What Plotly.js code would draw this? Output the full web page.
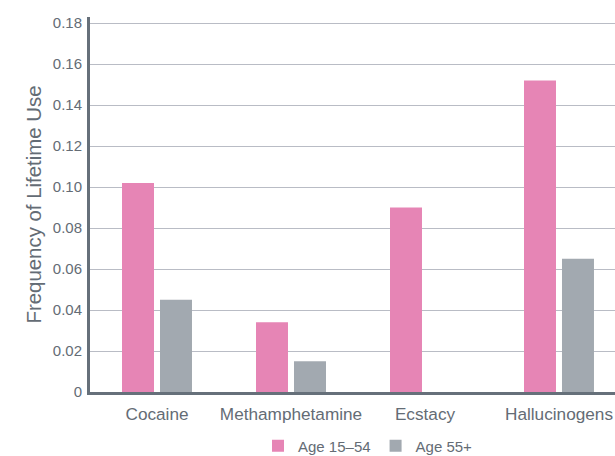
<!DOCTYPE html>
<html>
<head>
<meta charset="utf-8">
<script src="https://cdn.plot.ly/plotly-3.0.1.min.js"></script>
<style>html,body{margin:0;padding:0;background:#fff;}#chart{width:615px;height:456px;}</style>
</head>
<body>
<div id="chart"></div>
<script>
var categories = ["Cocaine", "Methamphetamine", "Ecstacy", "Hallucinogens"];
var age15to54 = [0.102, 0.034, 0.090, 0.152];
var age55plus = [0.045, 0.015, null, 0.065];
var seriesNames = ["Age 15\u201354", "Age 55+"];
var yTickVals = [0, 0.02, 0.04, 0.06, 0.08, 0.10, 0.12, 0.14, 0.16, 0.18];
var yTickText = ["0", "0.02", "0.04", "0.06", "0.08", "0.10", "0.12", "0.14", "0.16", "0.18"];

var font = "'Liberation Sans', Arial, sans-serif";
var data = [
  {type: "bar", x: categories, y: age15to54, name: seriesNames[0], marker: {color: "#e685b5"}, hoverinfo: "none"},
  {type: "bar", x: categories, y: age55plus, name: seriesNames[1], marker: {color: "#a2a9b0"}, hoverinfo: "none"}
];
var layout = {
  width: 615, height: 456,
  margin: {l: 90, r: 0, t: 17, b: 64, autoexpand: false},
  paper_bgcolor: "#fff", plot_bgcolor: "#fff",
  font: {family: font, color: "#646c75"},
  barmode: "group",
  bargap: 0.433,
  bargroupgap: 0.158,
  xaxis: {
    range: [-0.5, 3.418],
    showgrid: false,
    showline: true, linecolor: "#66707a", linewidth: 3,
    ticks: "", ticklabelstandoff: 4, tickfont: {size: 17.2, color: "#646c75"},
    zeroline: false
  },
  yaxis: {
    range: [0, 0.183],
    tickvals: yTickVals, ticktext: yTickText,
    showgrid: true, gridcolor: "#b9bcc5", gridwidth: 1,
    showline: true, linecolor: "#66707a", linewidth: 3,
    ticks: "", ticklabelstandoff: 2,
    tickfont: {size: 15, color: "#646c75"},
    zeroline: false,
    title: {text: "Frequency of Lifetime Use", font: {size: 20.4, color: "#646c75"}, standoff: 6}
  },
  showlegend: true,
  legend: {
    orientation: "h", xref: "paper", x: 0.32, xanchor: "left", yref: "container", y: 0.022, yanchor: "middle",
    font: {size: 15, color: "#646c75"}, traceorder: "normal",
    itemwidth: 30
  }
};
Plotly.newPlot("chart", data, layout, {staticPlot: true, displayModeBar: false});
</script>
</body>
</html>
